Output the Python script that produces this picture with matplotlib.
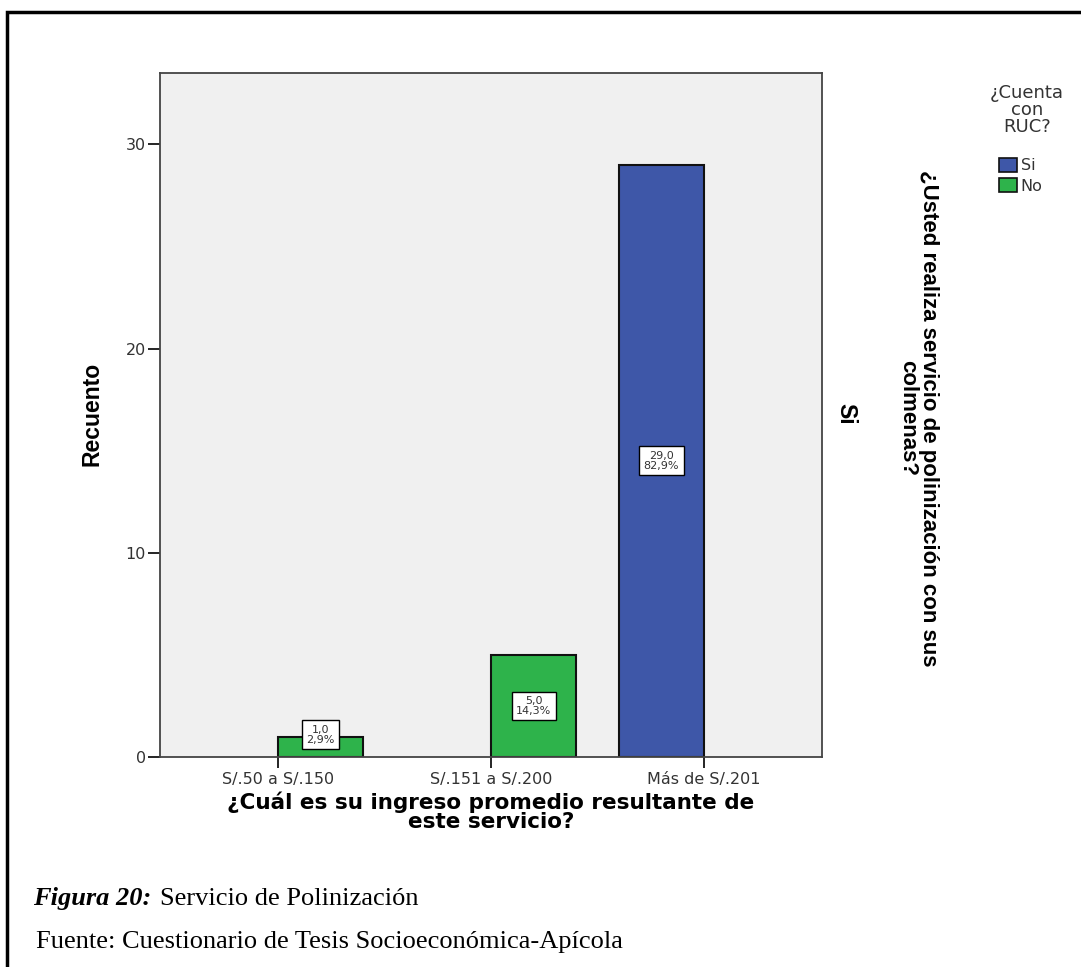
import matplotlib.pyplot as plt
import numpy as np
from matplotlib.patches import Rectangle, Patch

categorias = ["S/.50 a S/.150", "S/.151 a S/.200", "Más de S/.201"]
series = ["Si", "No"]
recuento_si = [0, 0, 29]
recuento_no = [1, 5, 0]
porcentaje_si = [0.0, 0.0, 82.9]
porcentaje_no = [2.9, 14.3, 0.0]

color_si = "#3E57A8"
color_no = "#2EB34B"
fondo = "#F0F0F0"

W, H = 1081, 967
plt.rcParams["font.family"] = ["DejaVu Sans"]
fig = plt.figure(figsize=(W / 100, H / 100), dpi=100)


def fx(px):
    return px / W


def fy(py):
    return 1 - py / H


ax = fig.add_axes([fx(160), fy(757), fx(822) - fx(160), fy(73) - fy(757)])
ax.set_facecolor(fondo)

x = np.arange(len(categorias))
ancho = 0.4


def etiqueta(xc, v, p):
    yc = max(v / 2, 1.1)
    txt = f"{v:.1f}".replace(".", ",") + "\n" + f"{p:.1f}%".replace(".", ",")
    ax.text(xc, yc, txt, ha="center", va="center", fontsize=8, linespacing=1.0,
            color="#333333",
            bbox=dict(boxstyle="square,pad=0.4", fc="white", ec="black", lw=1))


for i in range(len(categorias)):
    if recuento_si[i] > 0:
        ax.bar(x[i] - ancho / 2, recuento_si[i], ancho, color=color_si, edgecolor="#111111", lw=1.5)
        etiqueta(x[i] - ancho / 2, recuento_si[i], porcentaje_si[i])
    if recuento_no[i] > 0:
        ax.bar(x[i] + ancho / 2, recuento_no[i], ancho, color=color_no, edgecolor="#111111", lw=1.5)
        etiqueta(x[i] + ancho / 2, recuento_no[i], porcentaje_no[i])

ax.set_xlim(-0.554, 2.554)
ax.set_ylim(0, 33.5)
ax.set_xticks(x)
ax.set_xticklabels(categorias, fontsize=11.5, color="#333333")
ax.set_yticks([0, 10, 20, 30])
ax.tick_params(axis="y", labelsize=11.5, length=9, width=1.2, pad=1, labelcolor="#333333")
ax.tick_params(axis="x", length=8, width=1.2, pad=3)
for s in ax.spines.values():
    s.set_color("#444444")
    s.set_linewidth(1.3)

ax.set_xlabel("¿Cuál es su ingreso promedio resultante de\neste servicio?",
              fontsize=15.5, fontweight="bold", linespacing=0.95, labelpad=3)

fig.text(fx(92), fy(414), "Recuento", rotation=90, fontsize=16.5, fontweight="bold",
         family="Liberation Sans", ha="center", va="center")

# etiqueta del panel y título de fila
fig.text(fx(846), fy(414), "Si", rotation=-90, fontsize=16.5, fontweight="bold",
         family="Liberation Sans", ha="center", va="center")
fig.text(fx(918), fy(418), "¿Usted realiza servicio de polinización con sus\ncolmenas?",
         rotation=-90, fontsize=16, fontweight="bold", family="Liberation Sans",
         ha="center", va="center", linespacing=0.95)

# leyenda
fig.text(fx(1027), fy(110), "¿Cuenta\ncon\nRUC?", fontsize=13, color="#333333",
         ha="center", va="center", linespacing=0.9)
handles = [Patch(facecolor=color_si, edgecolor="#111111", lw=1.2, label=series[0]),
           Patch(facecolor=color_no, edgecolor="#111111", lw=1.2, label=series[1])]
fig.legend(handles=handles, loc="upper left", bbox_to_anchor=(fx(999), fy(158)),
           frameon=False, fontsize=11.5, handlelength=1.15, handleheight=0.95,
           handletextpad=0.2, labelspacing=0.3, borderpad=0, borderaxespad=0,
           labelcolor="#333333")

# pie de figura
fig.text(fx(33), fy(905), "Figura 20:", fontsize=19, fontweight="bold", fontstyle="italic",
         family="Liberation Serif", va="baseline")
fig.text(fx(160), fy(905), "Servicio de Polinización", fontsize=19,
         family="Liberation Serif", va="baseline")
fig.text(fx(36), fy(948), "Fuente: Cuestionario de Tesis Socioeconómica-Apícola", fontsize=19,
         family="Liberation Serif", va="baseline")

# marco
fig.patches.append(Rectangle((fx(7), -0.05), 1.2, fy(12) + 0.05, transform=fig.transFigure,
                             fill=False, ec="black", lw=2.5))

fig.savefig("out.png", dpi=100)
